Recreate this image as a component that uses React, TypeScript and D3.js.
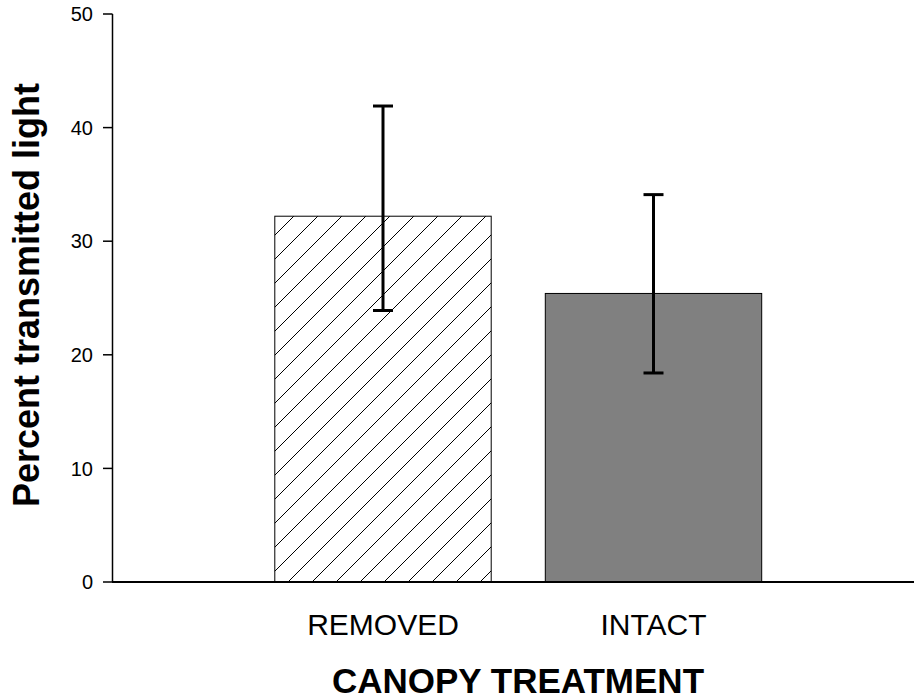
import React from "react";
import * as d3 from "d3";

// Canopy treatment categories and their mean percent transmitted light
const categories = ["REMOVED", "INTACT"];
const means = [32.2, 25.4];
const errUpper = [41.9, 34.1];
const errLower = [23.9, 18.4];
const yTicks = [0, 10, 20, 30, 40, 50];

const W = 914;
const H = 700;
const FONT = "Liberation Sans, Arial, Helvetica, sans-serif";

export default function App() {
  const x = d3
    .scaleBand<string>()
    .domain(categories)
    .range([112.5, 924])
    .paddingInner(0.2)
    .paddingOuter(0.6);
  const y = d3.scaleLinear().domain([0, 50]).range([582, 14]);

  const bw = x.bandwidth();
  const capW = 20;

  return (
    <svg
      width={W}
      height={H}
      style={{ position: "absolute", left: 0, top: 0, background: "#fff" }}
      fontFamily={FONT}
    >
      <defs>
        <pattern
          id="hatch"
          patternUnits="userSpaceOnUse"
          width={24}
          height={24}
          x={6}
          y={0}
        >
          <path
            d="M-6,6 L6,-6 M0,24 L24,0 M18,30 L30,18"
            stroke="#000"
            strokeWidth={1}
          />
        </pattern>
      </defs>

      {/* bars */}
      {categories.map((c, i) => (
        <rect
          key={c}
          x={x(c)!}
          y={y(means[i])}
          width={bw}
          height={y(0) - y(means[i])}
          fill={i === 0 ? "url(#hatch)" : "#808080"}
          stroke="#000"
          strokeWidth={1}
        />
      ))}

      {/* error bars */}
      {categories.map((c, i) => {
        const cx = x(c)! + bw / 2;
        return (
          <g key={c + "-err"} stroke="#000" strokeWidth={3}>
            <line x1={cx} x2={cx} y1={y(errUpper[i])} y2={y(errLower[i])} />
            <line
              x1={cx - capW / 2}
              x2={cx + capW / 2}
              y1={y(errUpper[i])}
              y2={y(errUpper[i])}
            />
            <line
              x1={cx - capW / 2}
              x2={cx + capW / 2}
              y1={y(errLower[i])}
              y2={y(errLower[i])}
            />
          </g>
        );
      })}

      {/* y axis */}
      <line x1={112.5} x2={112.5} y1={y(50)} y2={y(0)} stroke="#000" strokeWidth={1.5} />
      {yTicks.map((t) => (
        <g key={t}>
          <line x1={103} x2={112.5} y1={y(t)} y2={y(t)} stroke="#000" strokeWidth={1.5} />
          <text
            x={93}
            y={y(t)}
            dy="0.36em"
            textAnchor="end"
            fontSize={20}
            fill="#000"
          >
            {t}
          </text>
        </g>
      ))}

      {/* x axis */}
      <line x1={112} x2={924} y1={y(0)} y2={y(0)} stroke="#000" strokeWidth={2} />
      {categories.map((c) => (
        <text
          key={c + "-lbl"}
          x={x(c)! + bw / 2}
          y={635}
          textAnchor="middle"
          fontSize={30}
          fill="#000"
        >
          {c}
        </text>
      ))}

      {/* axis titles */}
      <text
        x={(112 + 924) / 2}
        y={693}
        textAnchor="middle"
        fontSize={35}
        fontWeight="bold"
        fill="#000"
      >
        CANOPY TREATMENT
      </text>
      <text
        transform={`translate(39, 295) rotate(-90)`}
        textAnchor="middle"
        fontSize={36}
        fontWeight="bold"
        fill="#000"
      >
        Percent transmitted light
      </text>
    </svg>
  );
}
